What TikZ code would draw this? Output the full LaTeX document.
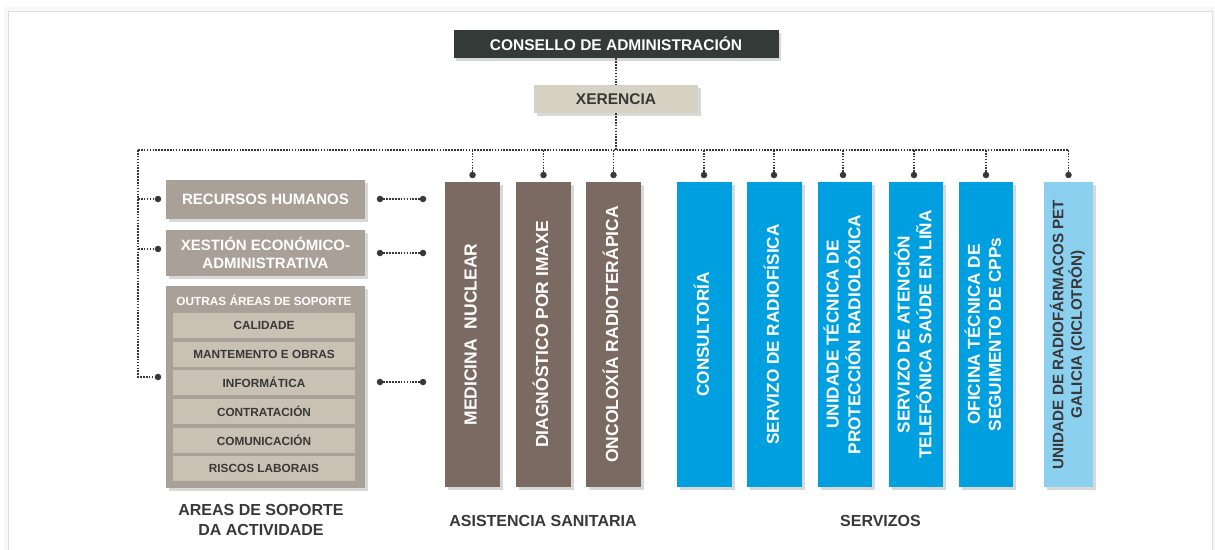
\documentclass[tikz,border=0pt]{standalone}
\usepackage{fontspec}
\setmainfont{Liberation Sans}
\usetikzlibrary{shadows}

\definecolor{consello}{HTML}{343A37}
\definecolor{xerencia}{HTML}{D6D3C5}
\definecolor{sanitaria}{HTML}{7A6A62}
\definecolor{soporte}{HTML}{A9A197}
\definecolor{soportein}{HTML}{C9C1B4}
\definecolor{servizo}{HTML}{009FE0}
\definecolor{ciclotron}{HTML}{8CD0F0}
\definecolor{textdark}{HTML}{383838}
\definecolor{linecol}{HTML}{383838}

\newcommand{\rotlabel}[1]{\rotatebox{90}{\begin{tabular}{@{}c@{}}#1\end{tabular}}}

\begin{document}
\begin{tikzpicture}[x=1pt,y=-1pt,
  orgbox/.style={inner sep=0pt,align=center,
    drop shadow={shadow xshift=2.5pt,shadow yshift=-2.5pt,opacity=0.3}},
  sanbox/.style={orgbox,fill=sanitaria,text=white,minimum width=55,minimum height=305,
    font=\bfseries\fontsize{17.5}{21}\selectfont},
  servbox/.style={orgbox,fill=servizo,text=white,minimum width=55,minimum height=305,
    font=\bfseries\fontsize{17.2}{21}\selectfont},
  soportebox/.style={orgbox,fill=soporte,text=white,minimum width=199,
    font=\bfseries\fontsize{15}{18}\selectfont},
  innerbox/.style={inner sep=0pt,fill=soportein,text=textdark,minimum width=182,minimum height=25,
    font=\bfseries\fontsize{11.8}{14}\selectfont},
  link/.style={draw=linecol,line width=1.6pt,dash pattern=on 1.6pt off 1.3pt},
  bullet/.style={circle,fill=linecol,inner sep=0pt,minimum size=6.5pt},
  grouplabel/.style={text=textdark,align=center,font=\bfseries\fontsize{16}{20}\selectfont}]

  \useasboundingbox (0,0) rectangle (1215,549);
  \fill[gray!6] (4,7) rectangle (1215,560);
  \filldraw[fill=white,draw=gray!25] (8,11) rectangle (1212,560);

  % top of the chart
  \node[orgbox,fill=consello,text=white,minimum width=325,minimum height=28,
    font=\bfseries\fontsize{15.5}{18}\selectfont] (consello) at (616,44) {CONSELLO DE ADMINISTRACIÓN};
  \node[orgbox,fill=xerencia,text=textdark,minimum width=164,minimum height=28,
    font=\bfseries\fontsize{15.5}{18}\selectfont] (xerencia) at (616,99) {XERENCIA};

  % support areas
  \node[soportebox,minimum height=39] (rrhh) at (265.5,199.5) {RECURSOS HUMANOS};
  \node[soportebox,minimum height=46] (xestion) at (265.5,253) {XESTIÓN ECONÓMICO-\\ADMINISTRATIVA};
  \node[soportebox,minimum height=202] (outras) at (265.5,387) {};
  \node[text=white,font=\bfseries\fontsize{11.8}{14}\selectfont] (outraslbl) at (264,300) {OUTRAS ÁREAS DE SOPORTE};
  \node[innerbox] (calidade) at (264,325.5) {CALIDADE};
  \node[innerbox] (mantemento) at (264,354.5) {MANTEMENTO E OBRAS};
  \node[innerbox] (informatica) at (264,382.5) {INFORMÁTICA};
  \node[innerbox] (contratacion) at (264,411.5) {CONTRATACIÓN};
  \node[innerbox] (comunicacion) at (264,440.5) {COMUNICACIÓN};
  \node[innerbox] (riscos) at (264,468.5) {RISCOS LABORAIS};

  % asistencia sanitaria
  \node[sanbox] (medicina) at (472.5,334.5) {\rotlabel{MEDICINA\ \ NUCLEAR}};
  \node[sanbox] (diagnostico) at (543.5,334.5) {\rotlabel{DIAGNÓSTICO POR IMAXE}};
  \node[sanbox] (oncoloxia) at (613.5,334.5) {\rotlabel{ONCOLOXÍA RADIOTERÁPICA}};

  % servizos
  \node[servbox] (consultoria) at (704.5,334.5) {\rotlabel{CONSULTORÍA}};
  \node[servbox] (radiofisica) at (774.5,334.5) {\rotlabel{SERVIZO DE RADIOFÍSICA}};
  \node[servbox,minimum width=54] (proteccion) at (845,334.5) {\rotlabel{UNIDADE TÉCNICA DE\\PROTECCIÓN RADIOLÓXICA}};
  \node[servbox,minimum width=54] (atencion) at (916,334.5) {\rotlabel{SERVIZO DE ATENCIÓN\\TELEFÓNICA SAÚDE EN LIÑA}};
  \node[servbox,minimum width=54] (oficina) at (986,334.5) {\rotlabel{OFICINA TÉCNICA DE\\SEGUIMENTO DE CPPs}};
  \node[servbox,fill=ciclotron,text=textdark,minimum width=49,
    font=\bfseries\fontsize{15.2}{17.5}\selectfont] (ciclotron) at (1068.5,334.5) {\rotlabel{UNIDADE DE RADIOFÁRMACOS PET\\GALICIA (CICLOTRÓN)}};

  % group labels
  \node[grouplabel] (lblsoporte) at (261,520) {AREAS DE SOPORTE\\DA ACTIVIDADE};
  \node[grouplabel] (lblsanitaria) at (543,521) {ASISTENCIA SANITARIA};
  \node[grouplabel] (lblservizos) at (880.5,521) {SERVIZOS};

  % connectors
  \coordinate (hleft) at (138,150);
  \coordinate (hright) at (1068.5,150);
  \coordinate (lcorner) at (138,377);
  \node[bullet] (dmed) at (472.5,175) {};
  \node[bullet] (ddiag) at (543.5,175) {};
  \node[bullet] (donco) at (613.5,175) {};
  \node[bullet] (dcons) at (704,175) {};
  \node[bullet] (drad) at (774,175) {};
  \node[bullet] (dprot) at (843,175) {};
  \node[bullet] (daten) at (914,175) {};
  \node[bullet] (dofic) at (986,175) {};
  \node[bullet] (dcicl) at (1068.5,175) {};
  \node[bullet] (drrhh) at (158,199) {};
  \node[bullet] (dxest) at (158,249) {};
  \node[bullet] (doutras) at (158,377) {};
  \node[bullet] (arrhh) at (380,199) {};
  \node[bullet] (brrhh) at (423,199) {};
  \node[bullet] (axest) at (380,253) {};
  \node[bullet] (bxest) at (423,253) {};
  \node[bullet] (aoutras) at (380,382) {};
  \node[bullet] (boutras) at (423,382) {};

  \draw[link] (consello) -- (xerencia);
  \draw[link] (xerencia) -- (xerencia |- hleft);
  \draw[link] (hleft) -- (hright);
  \draw[link] (hleft) -- (lcorner) -- (doutras);
  \draw[link] (hleft |- drrhh) -- (drrhh);
  \draw[link] (hleft |- dxest) -- (dxest);
  \draw[link] (dmed |- hleft) -- (dmed);
  \draw[link] (ddiag |- hleft) -- (ddiag);
  \draw[link] (donco |- hleft) -- (donco);
  \draw[link] (dcons |- hleft) -- (dcons);
  \draw[link] (drad |- hleft) -- (drad);
  \draw[link] (dprot |- hleft) -- (dprot);
  \draw[link] (daten |- hleft) -- (daten);
  \draw[link] (dofic |- hleft) -- (dofic);
  \draw[link] (dcicl |- hleft) -- (dcicl);
  \draw[link] (arrhh) -- (brrhh);
  \draw[link] (axest) -- (bxest);
  \draw[link] (aoutras) -- (boutras);
\end{tikzpicture}
\end{document}
